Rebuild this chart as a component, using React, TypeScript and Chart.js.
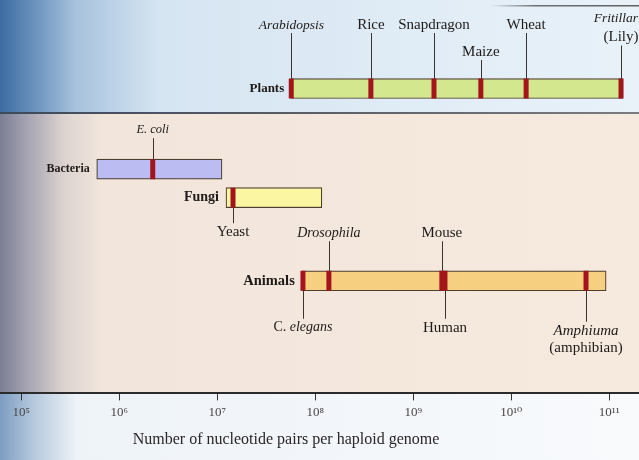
import React, { useEffect, useRef } from 'react';
import { Chart, registerables } from 'chart.js';

Chart.register(...registerables);

// ---------- DATA ----------
const groups = ['Plants', 'Bacteria', 'Fungi', 'Animals'];
const groupMin = [5.7e7, 5.9e5, 1.23e7, 7.3e7];
const groupMax = [1.38e11, 1.12e7, 1.17e8, 9.3e10];

const organisms = [
  'Arabidopsis', 'Rice', 'Snapdragon', 'Maize', 'Wheat', 'Fritillaria (Lily)',
  'E. coli', 'Yeast',
  'Drosophila', 'Mouse', 'C. elegans', 'Human', 'Amphiuma (amphibian)',
];
const organismGroup = [0, 0, 0, 0, 0, 0, 1, 2, 3, 3, 3, 3, 3];
const genomeSize = [
  5.7e7, 3.7e8, 1.63e9, 4.9e9, 1.42e10, 1.32e11,
  2.2e6, 1.45e7,
  1.38e8, 1.96e9, 7.5e7, 2.11e9, 5.8e10,
];
// label text, split in lines of segments (i = italic)
const organismLabel = [
  [[{ t: 'Arabidopsis', i: true }]],
  [[{ t: 'Rice' }]],
  [[{ t: 'Snapdragon' }]],
  [[{ t: 'Maize' }]],
  [[{ t: 'Wheat' }]],
  [[{ t: 'Fritillaria', i: true }], [{ t: '(Lily)' }]],
  [[{ t: 'E. coli', i: true }]],
  [[{ t: 'Yeast' }]],
  [[{ t: 'Drosophila', i: true }]],
  [[{ t: 'Mouse' }]],
  [[{ t: 'C. ' }, { t: 'elegans', i: true }]],
  [[{ t: 'Human' }]],
  [[{ t: 'Amphiuma', i: true }], [{ t: '(amphibian)' }]],
];

const tickValues = [1e5, 1e6, 1e7, 1e8, 1e9, 1e10, 1e11];
const tickLabels = ['10⁵', '10⁶', '10⁷', '10⁸', '10⁹', '10¹⁰', '10¹¹'];
const axisTitle = 'Number of nucleotide pairs per haploid genome';

// ---------- LAYOUT / STYLE ----------
const rowPos = [0.9, 1.72, 2.01, 2.855]; // vertical row slots (layout)
const groupFill = ['#d3e78f', '#babcf2', '#faf6a2', '#f6cf80'];
const groupFont = [13, 12, 14, 14.5];
// label offset (px) of first text line from row centre, line gap, font size
const labelDy = [-63.5, -63.5, -63.5, -36.5, -63.5, -70, -39, 34.5, -47.5, -47.5, 47, 47, 50];
const labelGap = [0, 0, 0, 0, 0, 19, 0, 0, 0, 0, 0, 0, 17];
const labelSize = [13.5, 15, 15, 15, 15, 13.5, 12.5, 15, 14, 15, 14, 15, 15];
const SERIF = '"Liberation Serif", "DejaVu Serif", serif';
const BAR_H = 20;

export default function App() {
  const ref = useRef<HTMLCanvasElement | null>(null);

  useEffect(() => {
    const canvas = ref.current;
    if (!canvas) return;

    const background = {
      id: 'background',
      beforeDraw(chart: any) {
        const ctx = chart.ctx as CanvasRenderingContext2D;
        const W = chart.width;
        const H = chart.height;
        const axisY = chart.chartArea.bottom;
        ctx.save();
        // top band
        let g = ctx.createLinearGradient(0, 0, W, 0);
        g.addColorStop(0, '#3d6ca2');
        g.addColorStop(0.04, '#5e88b6');
        g.addColorStop(0.12, '#a8c3de');
        g.addColorStop(0.25, '#d6e5f2');
        g.addColorStop(1, '#e9f2f9');
        ctx.fillStyle = g;
        ctx.fillRect(0, 0, W, 113);
        // middle band
        g = ctx.createLinearGradient(0, 0, W, 0);
        g.addColorStop(0, '#7c7e94');
        g.addColorStop(0.04, '#a3a2b1');
        g.addColorStop(0.1, '#dcd3d0');
        g.addColorStop(0.16, '#f2e6dc');
        g.addColorStop(1, '#f6eadf');
        ctx.fillStyle = g;
        ctx.fillRect(0, 113, W, axisY - 113);
        // bottom band
        g = ctx.createLinearGradient(0, 0, W, 0);
        g.addColorStop(0, '#7d9dc2');
        g.addColorStop(0.05, '#b3c7dc');
        g.addColorStop(0.12, '#eef3f8');
        g.addColorStop(1, '#f8fafc');
        ctx.fillStyle = g;
        ctx.fillRect(0, axisY, W, H - axisY);
        // separator line
        g = ctx.createLinearGradient(0, 0, W, 0);
        g.addColorStop(0, '#3c4a5c');
        g.addColorStop(0.5, '#5a5e66');
        g.addColorStop(1, '#7a7c80');
        ctx.fillStyle = g;
        ctx.fillRect(0, 112, W, 2);
        // page edge at top right
        g = ctx.createLinearGradient(490, 0, W, 0);
        g.addColorStop(0, 'rgba(60,60,60,0)');
        g.addColorStop(0.3, 'rgba(60,60,60,0.7)');
        g.addColorStop(1, 'rgba(60,60,60,0.8)');
        ctx.fillStyle = g;
        ctx.fillRect(490, 5, W - 490, 1.5);
        ctx.restore();
      },
    };

    const annotations = {
      id: 'annotations',
      afterDatasetsDraw(chart: any) {
        const ctx = chart.ctx as CanvasRenderingContext2D;
        const xs = chart.scales.x;
        const ys = chart.scales.y;
        ctx.save();
        ctx.fillStyle = '#1e1a18';
        ctx.textBaseline = 'middle';
        // group labels
        groups.forEach((name, i) => {
          const x = xs.getPixelForValue(groupMin[i]);
          const y = ys.getPixelForValue(rowPos[i]);
          ctx.font = `bold ${groupFont[i]}px ${SERIF}`;
          ctx.textAlign = 'right';
          ctx.fillText(name, x - 7, y);
        });
        // organism labels + leaders
        organisms.forEach((_, i) => {
          const x = xs.getPixelForValue(genomeSize[i]);
          const yc = ys.getPixelForValue(rowPos[organismGroup[i]]);
          const lines = organismLabel[i];
          const dy = labelDy[i];
          lines.forEach((segs: any[], li: number) => {
            const cy = yc + dy + li * labelGap[i];
            const size = segs.length === 1 && !segs[0].i && li > 0 ? 15 : labelSize[i];
            const fonts = segs.map((s) => `${s.i ? 'italic ' : ''}${size}px ${SERIF}`);
            const widths = segs.map((s, k) => {
              ctx.font = fonts[k];
              return ctx.measureText(s.t).width;
            });
            const total = widths.reduce((a: number, b: number) => a + b, 0);
            let tx = x - total / 2;
            ctx.textAlign = 'left';
            segs.forEach((s, k) => {
              ctx.font = fonts[k];
              ctx.fillText(s.t, tx, cy);
              tx += widths[k];
            });
          });
          ctx.strokeStyle = '#3a3330';
          ctx.lineWidth = 1;
          ctx.beginPath();
          const px = Math.round(x) + 0.5;
          if (dy < 0) {
            const last = yc + dy + (lines.length - 1) * labelGap[i];
            ctx.moveTo(px, last + 8);
            ctx.lineTo(px, yc - BAR_H / 2);
          } else {
            ctx.moveTo(px, yc + BAR_H / 2);
            ctx.lineTo(px, yc + dy - 9);
          }
          ctx.stroke();
        });
        // axis title
        ctx.font = `16px ${SERIF}`;
        ctx.textAlign = 'center';
        ctx.fillStyle = '#2a2626';
        ctx.fillText(axisTitle, 286, 440);
        ctx.restore();
      },
    };

    const chart = new Chart(canvas, {
      type: 'bar',
      data: {
        datasets: [
          {
            type: 'scatter',
            label: 'organisms',
            data: organisms.map((_, i) => ({ x: genomeSize[i], y: rowPos[organismGroup[i]] })),
            pointStyle: 'line',
            pointRotation: 90,
            pointRadius: BAR_H / 2,
            pointHoverRadius: BAR_H / 2,
            pointBorderWidth: 5,
            pointBorderColor: '#a3151b',
            pointBackgroundColor: '#a3151b',
            showLine: false,
            order: 1,
          } as any,
          {
            type: 'bar',
            label: 'ranges',
            data: groups.map((_, i) => ({ x: [groupMin[i], groupMax[i]], y: rowPos[i] })) as any,
            backgroundColor: groupFill,
            borderColor: '#4d3f30',
            borderWidth: 1.2,
            borderSkipped: false,
            barThickness: BAR_H,
            order: 2,
          } as any,
        ],
      },
      options: {
        indexAxis: 'y',
        responsive: false,
        animation: false,
        events: [],
        layout: { autoPadding: false, padding: { left: 0, right: 0, top: 0, bottom: 36 } },
        plugins: {
          legend: { display: false },
          tooltip: { enabled: false },
        },
        scales: {
          x: {
            type: 'logarithmic',
            offset: false,
            min: Math.pow(10, 4.784),
            max: Math.pow(10, 11.304),
            afterBuildTicks: (scale: any) => {
              scale.ticks = tickValues.map((v) => ({ value: v }));
            },
            ticks: {
              autoSkip: false,
              maxRotation: 0,
              padding: 4,
              color: '#4a4444',
              font: { family: SERIF, size: 13 },
              callback: (_v: any, idx: number) => tickLabels[idx],
            },
            grid: {
              offset: false,
              drawOnChartArea: false,
              drawTicks: true,
              tickLength: 7,
              tickColor: '#333',
              tickWidth: 1,
            },
            border: { display: true, color: '#2b2b2b', width: 2 },
          },
          y: {
            type: 'linear',
            display: false,
            offset: false,
            grid: { offset: false },
            min: 0,
            max: 4,
            reverse: true,
          },
        },
      } as any,
      plugins: [background, annotations],
    });

    return () => chart.destroy();
  }, []);

  return (
    <div style={{ position: 'fixed', left: 0, top: 0, width: 639, height: 460 }}>
      <canvas ref={ref} width={639} height={460} style={{ width: 639, height: 460, display: 'block' }} />
    </div>
  );
}
